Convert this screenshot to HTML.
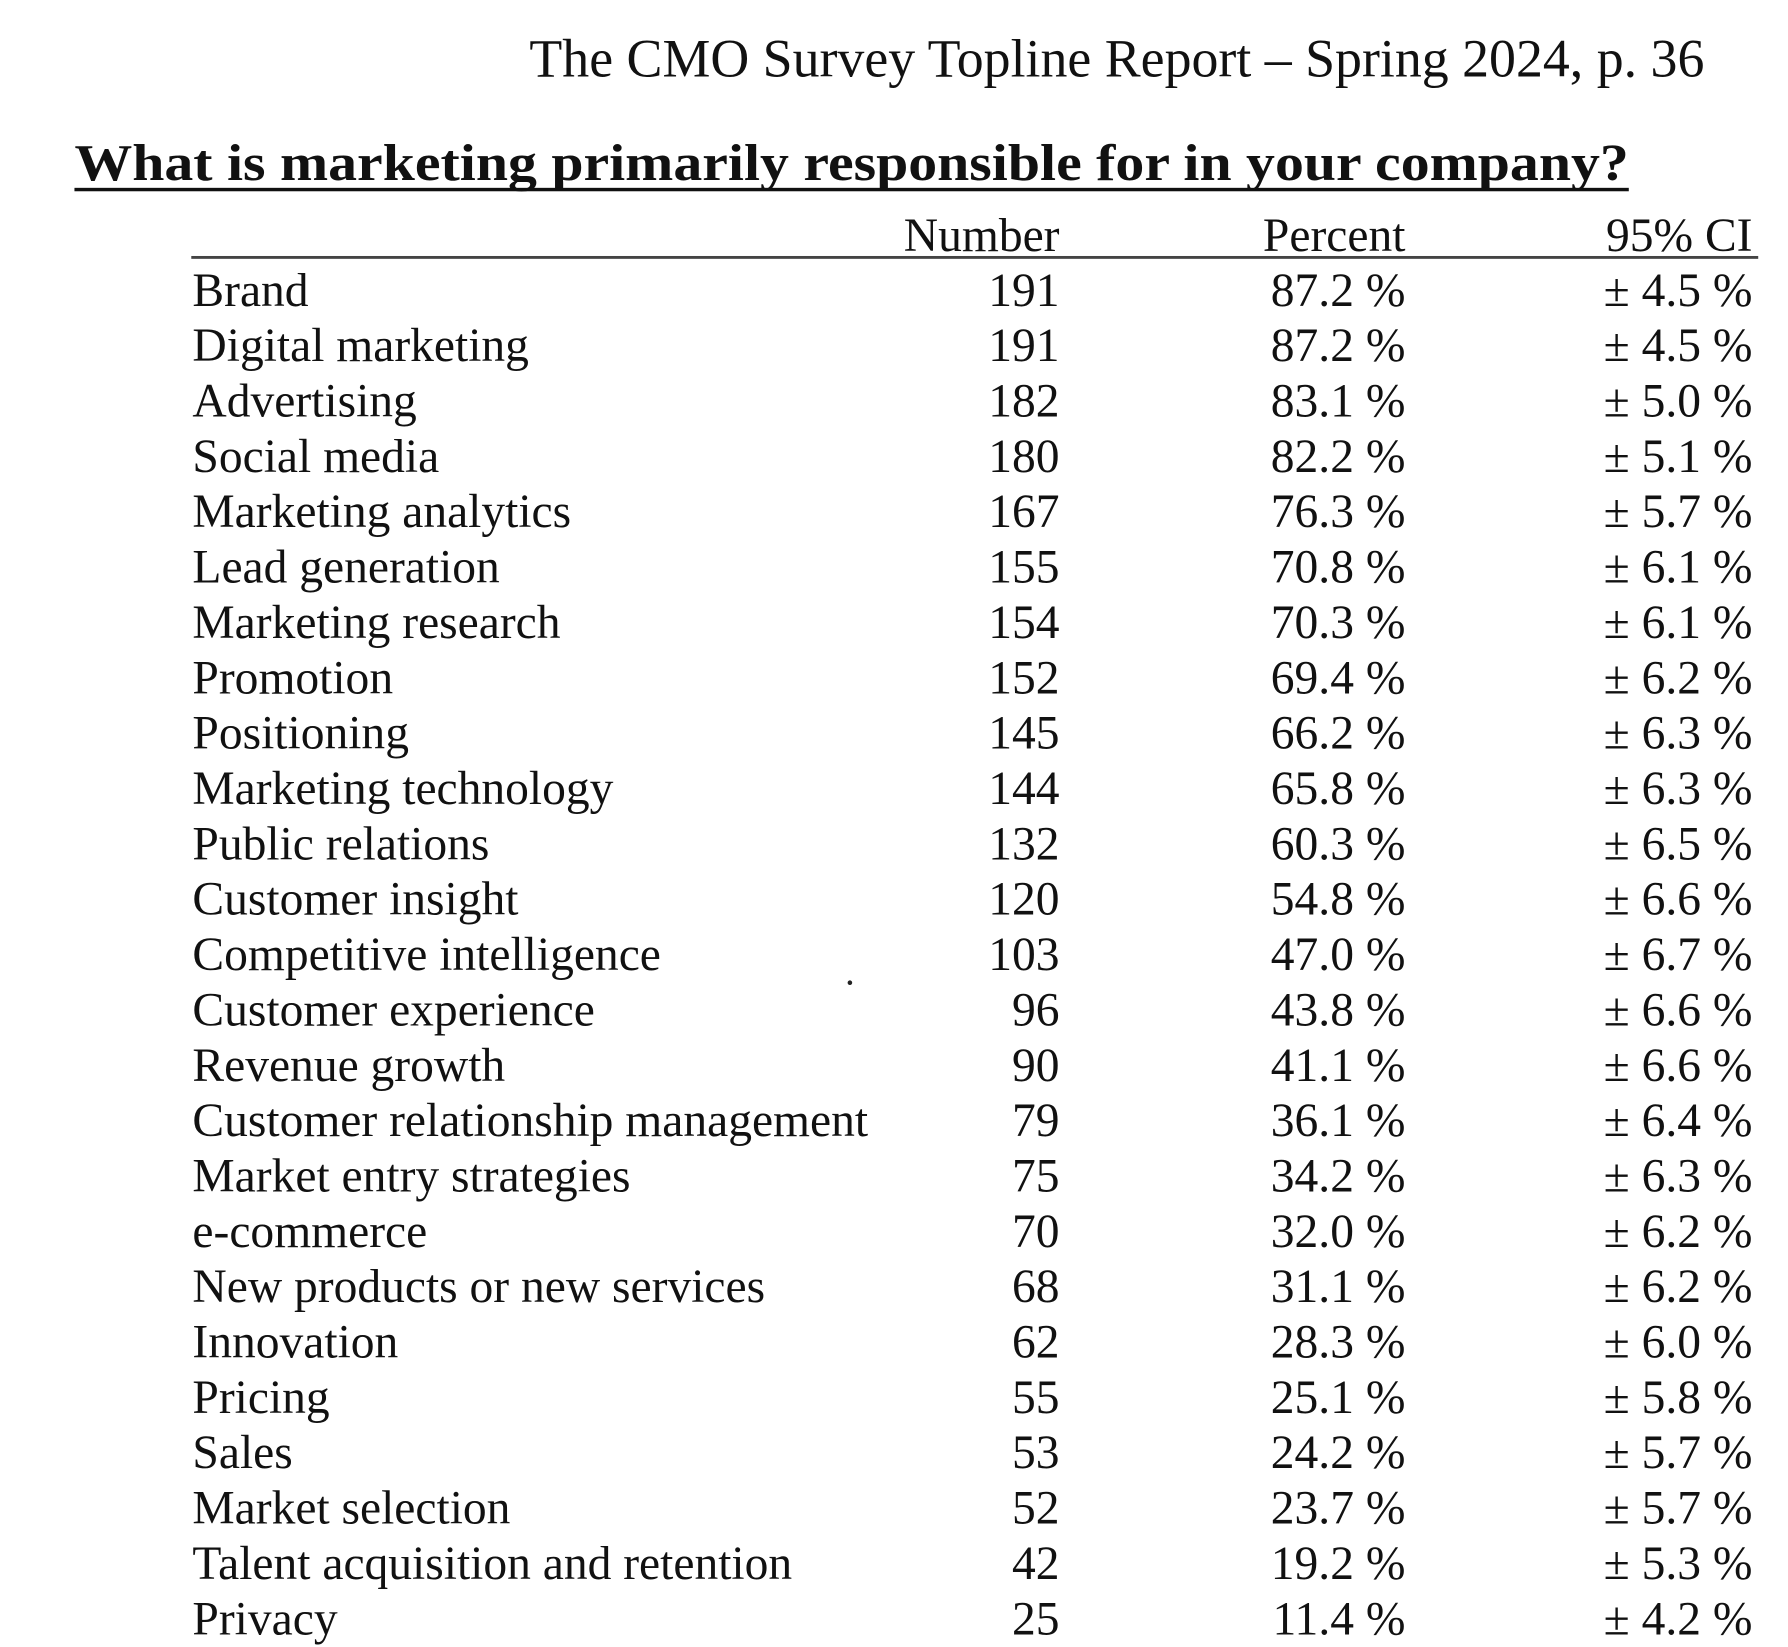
<!DOCTYPE html>
<html><head><meta charset="utf-8"><style>
html,body{margin:0;padding:0;background:#fff;}
svg{display:block;}
text{font-family:"Liberation Serif",serif;fill:#111;}
</style></head><body>
<svg width="1788" height="1647" viewBox="0 0 1561 1438" preserveAspectRatio="none" xmlns="http://www.w3.org/2000/svg">
<rect width="1561" height="1438" fill="#fff"/>
<text x="1488" y="67" font-size="47" text-anchor="end">The CMO Survey Topline Report – Spring 2024, p. 36</text>
<text x="65" y="157" font-size="45" font-weight="bold" textLength="1357" lengthAdjust="spacingAndGlyphs">What is marketing primarily responsible for in your company?</text>
<rect x="65" y="164" width="1357" height="3" fill="#111"/>
<g font-size="41.5" text-anchor="end">
<text x="925" y="219">Number</text>
<text x="1227" y="219">Percent</text>
<text x="1530" y="219">95% CI</text>
</g>
<rect x="167" y="223.5" width="1368" height="2.5" fill="#444"/>
<g font-size="41.5" id="rows">
</g>
<circle cx="742" cy="858" r="2" fill="#222"/>
<script>
var d=[["Brand",191,"87.2","4.5"],["Digital marketing",191,"87.2","4.5"],["Advertising",182,"83.1","5.0"],["Social media",180,"82.2","5.1"],["Marketing analytics",167,"76.3","5.7"],["Lead generation",155,"70.8","6.1"],["Marketing research",154,"70.3","6.1"],["Promotion",152,"69.4","6.2"],["Positioning",145,"66.2","6.3"],["Marketing technology",144,"65.8","6.3"],["Public relations",132,"60.3","6.5"],["Customer insight",120,"54.8","6.6"],["Competitive intelligence",103,"47.0","6.7"],["Customer experience",96,"43.8","6.6"],["Revenue growth",90,"41.1","6.6"],["Customer relationship management",79,"36.1","6.4"],["Market entry strategies",75,"34.2","6.3"],["e-commerce",70,"32.0","6.2"],["New products or new services",68,"31.1","6.2"],["Innovation",62,"28.3","6.0"],["Pricing",55,"25.1","5.8"],["Sales",53,"24.2","5.7"],["Market selection",52,"23.7","5.7"],["Talent acquisition and retention",42,"19.2","5.3"],["Privacy",25,"11.4","4.2"]];
var g=document.getElementById("rows"),ns="http://www.w3.org/2000/svg";
function t(x,y,s,a){var e=document.createElementNS(ns,"text");e.setAttribute("x",x);e.setAttribute("y",y);if(a)e.setAttribute("text-anchor",a);e.textContent=s;g.appendChild(e);}
d.forEach(function(r,i){var y=267+i*48.33;t(168,y,r[0]);t(925,y,String(r[1]),"end");t(1227,y,r[2]+" %","end");t(1530,y,"± "+r[3]+" %","end");});
</script>
</svg>
</body></html>
